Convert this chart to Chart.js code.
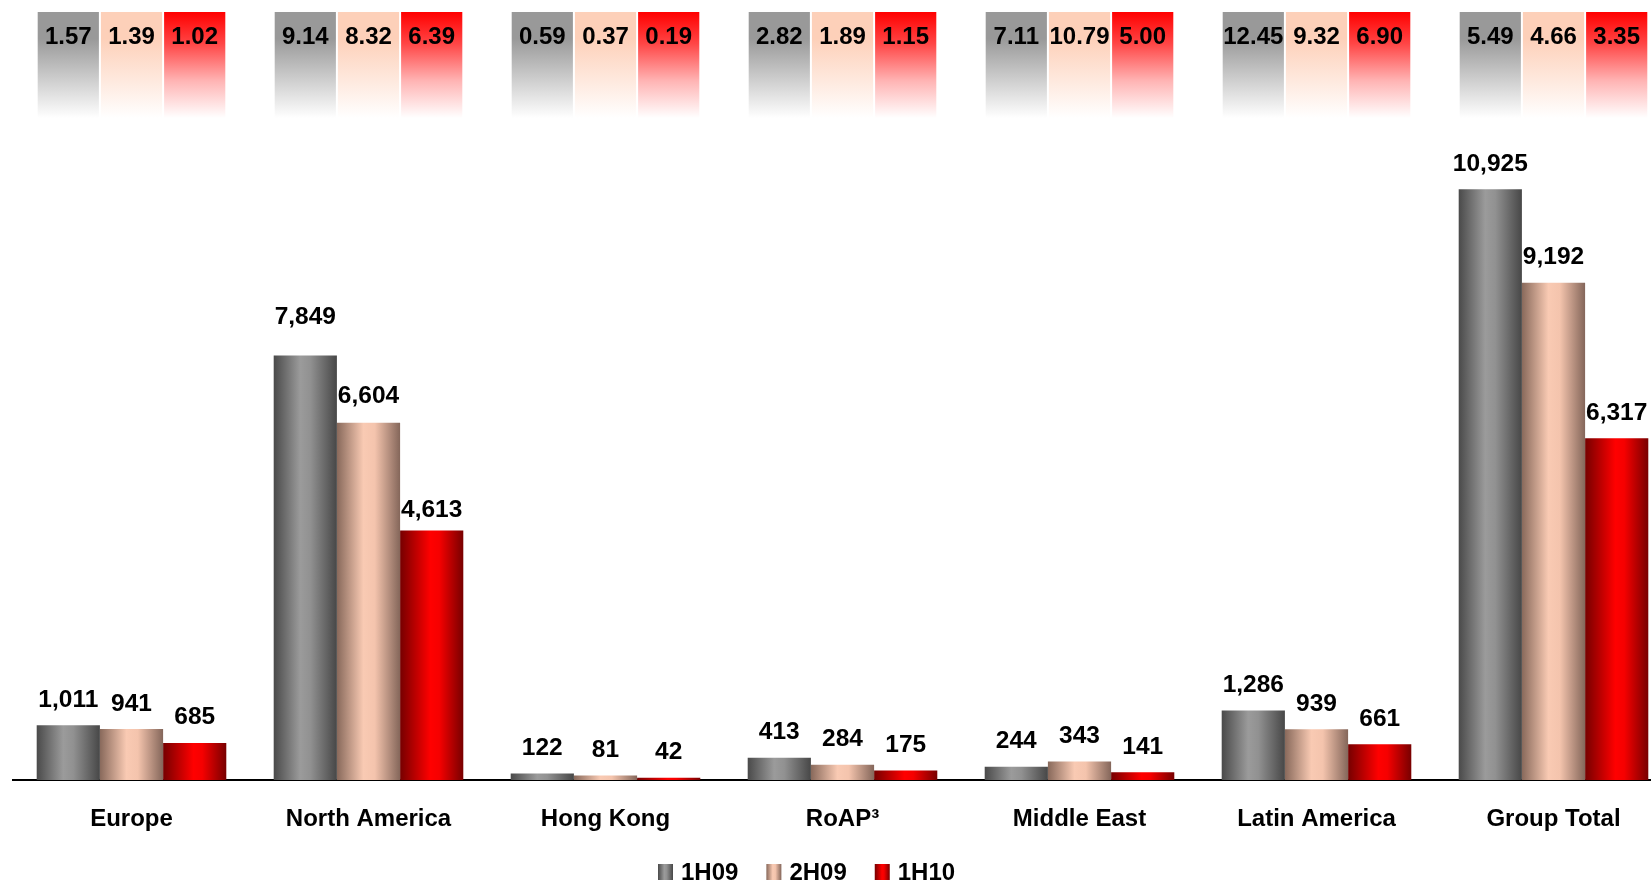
<!DOCTYPE html>
<html>
<head>
<meta charset="utf-8">
<title>Regional results 1H09 – 1H10</title>
<script src="https://cdn.jsdelivr.net/npm/chart.js@4/dist/chart.umd.min.js"></script>
<style>
  html, body { margin: 0; padding: 0; background: #ffffff; overflow: hidden; }
  #wrap { position: relative; width: 1651px; height: 883px; overflow: hidden; }
  #wrap canvas { position: absolute; left: 0; top: 0; width: 1672px; height: 883px; }
</style>
</head>
<body>
<div id="wrap"><canvas id="chart" width="1672" height="883"></canvas></div>
<script>
// Regions shown along the x axis
const categories = ['Europe', 'North America', 'Hong Kong', 'RoAP³', 'Middle East', 'Latin America', 'Group Total'];

// Period names
const periods = ['1H09', '2H09', '1H10'];

// Bar values per period
const values1H09 = [1011, 7849, 122, 413, 244, 1286, 10925];
const values2H09 = [941, 6604, 81, 284, 343, 939, 9192];
const values1H10 = [685, 4613, 42, 175, 141, 661, 6317];

// Ratio row shown in the header strip above each group
const ratios1H09 = [1.57, 9.14, 0.59, 2.82, 7.11, 12.45, 5.49];
const ratios2H09 = [1.39, 8.32, 0.37, 1.89, 10.79, 9.32, 4.66];
const ratios1H10 = [1.02, 6.39, 0.19, 1.15, 5.00, 6.90, 3.35];

const seriesValues = [values1H09, values2H09, values1H10];
const seriesRatios = [ratios1H09, ratios2H09, ratios1H10];

const FONT = '"Liberation Sans", Arial, Helvetica, sans-serif';
const CAT_PCT = 0.8;

// Distance (px) between a value label's baseline and its bar top;
// a few labels in the North America group sit at their own height.
const LABEL_LIFT = 18.5;
const labelLiftOverride = { 'North America|1H09': 31, 'North America|2H09': 20, 'North America|1H10': 14 };

// Cylinder-like horizontal shading for each series, plus header tint
const seriesStyle = [
  { flat: '#8c8c8c', head: '#999999',
    shade: [[0, '#4a4a4a'], [0.42, '#9b9b9b'], [0.58, '#919191'], [1, '#474747']] },
  { flat: '#f8c8b0', head: '#fdd0b9',
    shade: [[0, '#88695b'], [0.42, '#f9cab3'], [0.6, '#f4c4ad'], [1, '#84665a']] },
  { flat: '#ff0000', head: '#ff0000',
    shade: [[0, '#760000'], [0.48, '#ff0000'], [0.62, '#f60000'], [1, '#780000']] }
];

function hGradient(ctx, left, width, stops) {
  const g = ctx.createLinearGradient(left, 0, left + width, 0);
  stops.forEach(([o, c]) => g.addColorStop(o, c));
  return g;
}

function cylinderFill(context) {
  const chart = context.chart;
  const st = seriesStyle[context.datasetIndex];
  const xs = chart.scales && chart.scales.x;
  if (!xs || !chart.chartArea || context.type !== 'data') return st.flat;
  const step = xs.getPixelForValue(1) - xs.getPixelForValue(0);
  const bw = step * CAT_PCT / periods.length;
  const left = xs.getPixelForValue(context.dataIndex) - bw * periods.length / 2 + context.datasetIndex * bw;
  return hGradient(chart.ctx, left, bw, st.shade);
}

// Value labels, header strip and legend
const annotate = {
  id: 'annotate',
  afterDatasetsDraw(chart) {
    const ctx = chart.ctx;
    ctx.save();
    ctx.fillStyle = '#000';
    ctx.textAlign = 'center';
    ctx.textBaseline = 'alphabetic';

    ctx.font = 'bold 24.5px ' + FONT;
    chart.data.datasets.forEach((ds, d) => {
      const meta = chart.getDatasetMeta(d);
      meta.data.forEach((bar, i) => {
        const key = categories[i] + '|' + periods[d];
        const lift = labelLiftOverride[key] !== undefined ? labelLiftOverride[key] : LABEL_LIFT;
        ctx.fillStyle = '#000';
        ctx.fillText(ds.data[i].toLocaleString('en-US'), bar.x, bar.y - lift);
      });
    });

    // header strip: tinted boxes that fade to white
    ctx.font = 'bold 24px ' + FONT;
    const top = 12, bottom = 118;
    chart.data.datasets.forEach((ds, d) => {
      const meta = chart.getDatasetMeta(d);
      const st = seriesStyle[d];
      meta.data.forEach((bar, i) => {
        const left = bar.x - bar.width / 2 + 1;
        const w = bar.width - 2;
        const g = ctx.createLinearGradient(0, top, 0, bottom);
        if (d === 2) {
          g.addColorStop(0, '#ff0000');
          g.addColorStop(0.3, '#ff4646');
          g.addColorStop(0.65, '#ffb4b4');
          g.addColorStop(1, '#ffffff');
        } else {
          g.addColorStop(0, st.head);
          g.addColorStop(0.25, st.head);
          g.addColorStop(1, '#ffffff');
        }
        ctx.fillStyle = g;
        ctx.fillRect(left, top, w, bottom - top);
        ctx.fillStyle = '#000';
        ctx.fillText(seriesRatios[d][i].toFixed(2), bar.x, 44);
      });
    });

    // legend
    ctx.textAlign = 'left';
    let x = 658;
    periods.forEach((p, d) => {
      ctx.fillStyle = hGradient(ctx, x, 15, seriesStyle[d].shade);
      ctx.fillRect(x, 864, 15, 16);
      ctx.fillStyle = '#000';
      ctx.fillText(p, x + 23, 880);
      x += 15 + 8 + ctx.measureText(p).width + 28;
    });
    ctx.restore();
  }
};

new Chart(document.getElementById('chart'), {
  type: 'bar',
  data: {
    labels: categories,
    datasets: periods.map((p, d) => ({
      label: p,
      data: seriesValues[d],
      backgroundColor: cylinderFill,
      borderWidth: 0,
      barPercentage: 1.0,
      categoryPercentage: CAT_PCT
    }))
  },
  options: {
    responsive: false,
    animation: false,
    layout: { padding: { top: 131, left: 13, right: 0, bottom: 0 } },
    plugins: {
      legend: { display: false },
      tooltip: { enabled: false }
    },
    scales: {
      x: {
        grid: { display: false, drawTicks: false },
        border: { display: true, color: '#000', width: 2 },
        ticks: {
          color: '#000',
          padding: 25,
          maxRotation: 0,
          autoSkip: false,
          font: { family: FONT, size: 24, weight: 'bold' }
        },
        afterFit(scale) { scale.height = 103; }
      },
      y: {
        display: false,
        min: 0,
        max: 12000
      }
    }
  },
  plugins: [annotate]
});
</script>
</body>
</html>
